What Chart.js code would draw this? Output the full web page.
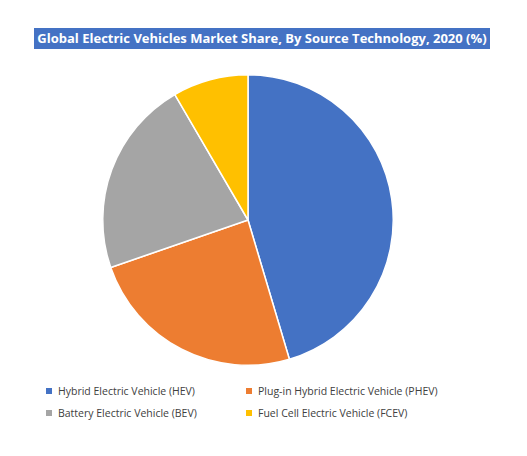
<!DOCTYPE html>
<html>
<head>
<meta charset="utf-8">
<script src="https://cdn.jsdelivr.net/npm/chart.js@4"></script>
<style>
  body { margin: 0; width: 527px; height: 456px; background: #fff; font-family: "Open Sans", "Liberation Sans", sans-serif; position: relative; overflow: hidden; }
  #title { position: absolute; left: 34px; top: 28px; width: 456px; height: 21px; background: #4472c4; color: #fff; font-weight: bold; font-size: 13px; line-height: 21px; text-align: center; }
  #wrap { position: absolute; left: 100px; top: 72px; width: 296px; height: 296px; }
  #legend { position: absolute; left: 46px; top: 384px; width: 440px; font-size: 10.5px; color: #404040; }
  .item { position: absolute; white-space: nowrap; }
  .sw { display: inline-block; width: 6px; height: 6px; margin-right: 6px; vertical-align: 1px; }
</style>
</head>
<body>
<div id="title">Global Electric Vehicles Market Share, By Source Technology, 2020 (%)</div>
<div id="wrap"><canvas id="pie"></canvas></div>
<div id="legend"></div>
<script>
// slice shares
const labels = ['Hybrid Electric Vehicle (HEV)', 'Plug-in Hybrid Electric Vehicle (PHEV)', 'Battery Electric Vehicle (BEV)', 'Fuel Cell Electric Vehicle (FCEV)'];
const shares = [45.4, 24.3, 21.9, 8.4];
const colors = ['#4472c4', '#ed7d31', '#a5a5a5', '#ffc000'];

// legend in two columns, like the original
const spots = [[0, 0], [200, 0], [0, 22], [200, 22]];
const legend = document.getElementById('legend');
labels.forEach((name, i) => {
    const div = document.createElement('div');
    div.className = 'item';
    div.style.left = spots[i][0] + 'px';
    div.style.top = spots[i][1] + 'px';
    div.innerHTML = `<span class="sw" style="background:${colors[i]}"></span>${name}`;
    legend.appendChild(div);
});

new Chart(document.getElementById('pie'), {
    type: 'pie',
    data: {
        labels: labels,
        datasets: [{
            data: shares,
            backgroundColor: colors,
            borderColor: '#fff',
            borderWidth: 1.5
        }]
    },
    options: {
        responsive: true,
        maintainAspectRatio: false,
        animation: false,
        layout: { padding: 2 },
        plugins: {
            legend: { display: false },
            tooltip: { enabled: false }
        }
    }
});
</script>
</body>
</html>
